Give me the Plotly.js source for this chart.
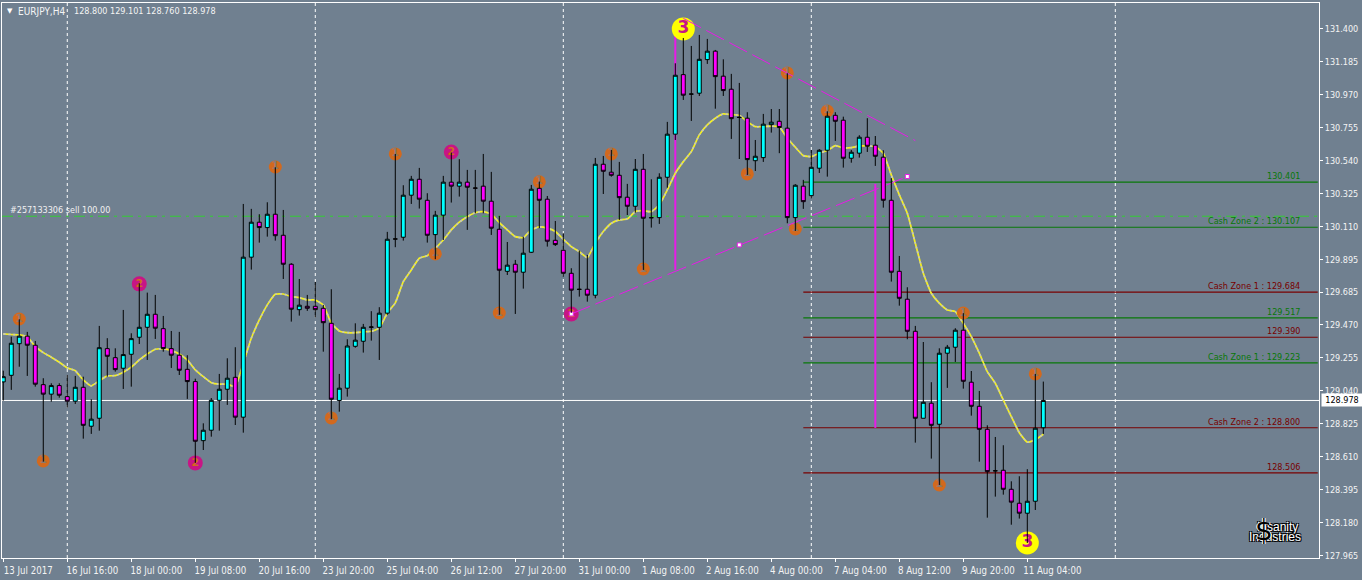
<!DOCTYPE html>
<html><head><meta charset="utf-8">
<script src="https://cdn.plot.ly/plotly-3.0.1.min.js"></script>
<style>html,body{margin:0;padding:0;background:#708090}#c{width:1362px;height:580px}</style>
</head><body><div id="c"></div>
<script>
const opens=[129.099,129.142,129.348,129.397,129.338,129.081,129.019,129.075,129.003,128.973,129.064,128.810,128.862,129.316,129.257,129.188,129.279,129.390,129.455,129.540,129.446,129.316,129.273,129.181,129.101,128.716,128.784,128.979,129.051,129.129,128.869,129.912,130.140,130.105,130.192,130.055,129.866,129.570,129.592,129.592,129.579,129.481,128.978,129.058,129.331,129.364,129.455,129.455,129.547,130.030,130.042,130.316,130.420,130.283,130.059,130.186,130.401,130.375,130.401,130.363,130.375,130.277,130.094,129.820,129.866,129.814,129.944,130.361,130.290,130.022,129.957,129.807,129.703,129.703,129.664,130.518,130.466,130.446,130.303,130.244,130.485,130.170,130.170,130.433,130.714,131.102,130.976,130.981,131.200,131.255,131.092,131.007,130.824,130.818,130.541,130.561,130.776,130.798,130.753,130.170,130.375,130.313,130.492,130.609,130.837,130.805,130.557,130.590,130.694,130.642,130.564,130.283,129.820,129.638,129.429,128.862,128.960,128.823,129.286,129.325,129.436,129.097,128.940,128.790,128.520,128.523,128.399,128.308,128.243,128.321,128.800];
const highs=[129.172,129.394,129.507,129.425,129.366,129.123,129.090,129.090,129.144,129.138,129.133,128.986,129.464,129.384,129.318,129.568,129.416,129.742,129.681,129.666,129.529,129.431,129.425,129.273,129.120,128.829,128.994,129.151,129.253,129.325,130.259,130.227,130.192,130.270,130.498,130.220,129.873,129.770,129.666,129.751,129.601,129.703,129.151,129.377,129.481,129.477,129.560,129.586,130.077,130.585,130.381,130.442,130.494,130.329,130.214,130.442,130.594,130.551,130.481,130.481,130.585,130.468,130.181,130.011,129.894,130.046,130.383,130.405,130.311,130.148,130.068,129.840,129.955,129.927,130.559,130.572,130.611,130.533,130.390,130.552,130.585,130.420,130.459,130.794,131.176,131.341,131.289,131.361,131.335,131.263,131.202,131.107,131.048,130.857,130.676,130.846,130.878,130.878,131.111,130.388,130.416,130.611,130.616,130.863,130.857,130.828,130.611,130.707,130.818,130.702,130.609,130.427,129.920,129.716,129.464,129.359,129.097,129.318,129.340,129.449,129.547,129.170,129.040,128.816,128.740,128.686,128.451,128.484,128.530,129.151,129.101];
const lows=[128.977,129.047,129.198,129.138,129.068,128.579,128.970,128.996,128.931,128.955,128.729,128.760,128.781,129.133,129.166,129.053,129.068,129.346,129.242,129.379,129.296,129.190,129.144,128.988,128.571,128.655,128.742,128.781,128.949,128.818,128.768,129.831,130.007,130.046,130.020,129.770,129.492,129.531,129.562,129.518,129.296,128.856,128.905,129.003,129.322,129.290,129.368,129.242,129.536,129.977,130.020,130.259,130.229,130.007,129.899,130.024,130.268,130.307,130.090,130.198,130.198,130.057,129.536,129.796,129.542,129.707,129.940,130.101,129.981,129.985,129.785,129.550,129.655,129.622,129.644,130.324,130.437,130.155,130.187,130.202,129.829,130.105,130.129,130.365,130.676,130.937,130.800,130.963,131.172,130.880,130.963,130.683,130.552,130.448,130.474,130.533,130.724,130.590,130.133,130.083,130.227,130.296,130.461,130.437,130.670,130.496,130.528,130.561,130.598,130.507,130.235,129.753,129.596,129.377,128.703,128.862,128.599,128.427,129.060,129.229,129.055,128.879,128.579,128.214,128.351,128.364,128.168,128.208,128.049,128.264,128.760];
const closes=[129.133,129.351,129.397,129.338,129.084,129.019,129.075,129.012,128.973,129.064,128.816,128.856,129.322,129.266,129.179,129.277,129.381,129.455,129.540,129.449,129.316,129.273,129.175,129.101,128.712,128.784,128.979,129.051,129.123,128.869,129.912,130.140,130.105,130.192,130.052,129.866,129.573,129.599,129.579,129.570,129.485,128.986,129.058,129.333,129.371,129.455,129.457,129.547,130.029,130.031,130.316,130.420,130.290,130.055,130.186,130.401,130.375,130.401,130.368,130.362,130.277,130.101,129.827,129.860,129.814,129.938,130.355,130.283,130.016,129.994,129.807,129.697,129.702,129.664,130.518,130.472,130.446,130.300,130.244,130.485,130.166,130.169,130.433,130.714,131.098,130.968,130.975,131.202,131.255,131.089,130.998,130.815,130.823,130.548,130.570,130.779,130.792,130.757,130.170,130.381,130.274,130.498,130.609,130.831,130.798,130.557,130.596,130.694,130.635,130.570,130.283,129.814,129.644,129.429,128.862,128.966,128.816,129.286,129.325,129.436,129.103,128.940,128.790,128.514,128.519,128.399,128.315,128.243,128.321,128.797,128.978];
const maValues=[129.412,129.408,129.405,129.394,129.329,129.290,129.260,129.227,129.190,129.172,129.112,129.073,129.107,129.138,129.140,129.162,129.195,129.242,129.281,129.312,129.314,129.303,129.281,129.242,129.177,129.133,129.094,129.084,129.084,129.068,129.221,129.384,129.503,129.601,129.670,129.672,129.655,129.648,129.633,129.633,129.601,129.481,129.431,129.420,129.420,129.425,129.429,129.449,129.548,129.614,129.753,129.829,129.905,129.922,129.970,130.024,130.090,130.140,130.176,130.202,130.209,130.194,130.137,130.090,130.046,130.039,130.090,130.109,130.101,130.079,130.029,129.981,129.948,129.909,130.003,130.079,130.133,130.155,130.161,130.209,130.215,130.209,130.253,130.350,130.459,130.535,130.600,130.709,130.774,130.818,130.846,130.841,130.837,130.796,130.763,130.763,130.766,130.763,130.687,130.629,130.574,130.568,130.590,130.607,130.639,130.624,130.626,130.637,130.637,130.633,130.590,130.448,130.318,130.198,130.003,129.807,129.677,129.612,129.568,129.557,129.481,129.394,129.286,129.166,129.090,128.981,128.873,128.768,128.706,128.721,128.758];

const wave1Bars=[2,5,34,41,49,54,62,67,76,80,93,98,99,103,117,120,129];
const wave1Prices=[129.509,128.584,130.500,128.864,130.585,129.933,129.548,130.403,130.585,129.835,130.455,131.113,130.096,130.865,128.427,129.548,129.151];
const wave2Bars=[17,24,56,71];
const wave2Prices=[129.738,128.571,130.598,129.542];
const wave3Bars=[85,128];
const wave3Prices=[131.400,128.049];

const topTrendBars=[85,114];
const topTrendPrices=[131.469,130.672];
const lowTrendBars=[71,92,113];
const lowTrendPrices=[129.542,129.992,130.438];
const stemOneBars=[84,84];
const stemOnePrices=[131.439,129.829];
const stemTwoBars=[109,109];
const stemTwoPrices=[130.390,128.799];

const levelPrices=[130.401,130.107,129.684,129.517,129.390,129.223,128.800,128.506];
const levelTexts=['130.401','Cash Zone 2 : 130.107','Cash Zone 1 : 129.684','129.517','129.390','Cash Zone 1 : 129.223','Cash Zone 2 : 128.800','128.506'];
const levelColors=['#087808','#087808','#780000','#087808','#780000','#087808','#780000','#780000'];
const levelStartBar=100;
const levelEndBar=164.3;
const labelBar=162.35;

const orderPrice=130.179;
const orderText='#257133306 sell 100.00';
const bidPrice=128.978;
const sessionBars=[8,39,70,101,139];

const timeTickBars=[0,8,16,24,32,40,48,56,64,72,80,88,96,104,112,120,128];
const timeTickLabels=['13 Jul 2017','16 Jul 16:00','18 Jul 00:00','19 Jul 08:00','20 Jul 16:00','23 Jul 20:00','25 Jul 04:00','26 Jul 12:00','27 Jul 20:00','31 Jul 00:00','1 Aug 08:00','2 Aug 16:00','4 Aug 00:00','7 Aug 04:00','8 Aug 12:00','9 Aug 20:00','11 Aug 04:00'];
const priceTicks=[131.400,131.185,130.970,130.755,130.540,130.325,130.110,129.895,129.685,129.470,129.255,129.040,128.825,128.610,128.395,128.180,127.965];

const xRange=[-0.16,164.46];
const yRange=[127.951,131.569];
const barIndex=opens.map((_,i)=>i);
const font='"DejaVu Sans Condensed","DejaVu Sans", sans-serif';
const fontSize=9;

function dots(xs,ys,color,size,label,labelColor,labelSize){
  return {type:'scatter',mode:'markers+text',x:xs,y:ys,marker:{color,size,line:{width:0}},
    text:xs.map(()=>label),textposition:'middle center',
    textfont:{family:'"DejaVu Sans",sans-serif',size:labelSize,color:labelColor,weight:700},cliponaxis:false,hoverinfo:'skip',showlegend:false};
}
const magenta='#e81ae8';
const traces=[
 {type:'scatter',mode:'lines',x:stemOneBars,y:stemOnePrices,line:{color:magenta,width:2},hoverinfo:'skip'},
 {type:'scatter',mode:'lines',x:stemTwoBars,y:stemTwoPrices,line:{color:magenta,width:2},hoverinfo:'skip'},
 {type:'scatter',mode:'lines',x:barIndex,y:maValues,line:{color:'#f4f020',width:1.7,shape:'spline',smoothing:0.4},hoverinfo:'skip'},
 {type:'scatter',mode:'lines',x:barIndex,y:maValues,line:{color:'#c6c6be',width:1.7,shape:'spline',smoothing:0.4,dash:'2px,3px'},hoverinfo:'skip'},
 dots(wave1Bars,wave1Prices,'#d2691e',13,'1','#8a7a70',10),
 dots(wave2Bars,wave2Prices,'#c71585',15,'2','#d2691e',11),
 dots(wave3Bars,wave3Prices,'#ffff00',23,'3','#c71585',17),
 {type:'scatter',mode:'lines',x:topTrendBars,y:topTrendPrices,line:{color:magenta,width:1,dash:'20px,6px'},hoverinfo:'skip'},
 {type:'scatter',mode:'lines+markers',x:lowTrendBars,y:lowTrendPrices,line:{color:magenta,width:1,dash:'20px,6px'},
  marker:{symbol:'square',color:'#ffffff',size:4,line:{color:magenta,width:1}},hoverinfo:'skip'},
 {type:'candlestick',x:barIndex,open:opens,high:highs,low:lows,close:closes,xaxis:'x2',yaxis:'y2',
  increasing:{fillcolor:'#00ffff',line:{color:'#000000',width:1}},
  decreasing:{fillcolor:'#ff00ff',line:{color:'#000000',width:1}},hoverinfo:'skip'}
];

const shapes=[];
sessionBars.forEach(b=>shapes.push({type:'line',layer:'below',xref:'x',yref:'paper',x0:b,x1:b,y0:0,y1:1,line:{color:'#ffffff',width:1,dash:'3px,3px'}}));
shapes.push({type:'line',layer:'below',xref:'paper',yref:'y',x0:0,x1:1,y0:orderPrice,y1:orderPrice,line:{color:'#32cd32',width:1,dash:'11px,5px,3px,5px'}});
shapes.push({type:'line',layer:'below',xref:'paper',yref:'y',x0:0,x1:1,y0:bidPrice,y1:bidPrice,line:{color:'#ffffff',width:1}});
levelPrices.forEach((p,k)=>shapes.push({type:'line',layer:'below',xref:'x',yref:'y',x0:levelStartBar,x1:levelEndBar,y0:p,y1:p,line:{color:levelColors[k],width:1.2}}));

const annotations=[];
levelPrices.forEach((p,k)=>annotations.push({xref:'x',yref:'y',x:labelBar,y:p,text:levelTexts[k],showarrow:false,xanchor:'right',yanchor:'middle',yshift:6,font:{family:font,size:fontSize,color:levelColors[k]}}));
annotations.push({xref:'x',yref:'y',x:0.6,y:orderPrice,text:orderText,showarrow:false,xanchor:'left',yanchor:'middle',yshift:6,font:{family:font,size:fontSize,color:'#f0f0f0'}});
annotations.push({xref:'paper',yref:'y',x:1,xshift:2,y:bidPrice,text:bidPrice.toFixed(3),showarrow:false,xanchor:'left',yanchor:'middle',bgcolor:'#ffffff',borderpad:1,width:38,font:{family:font,size:fontSize,color:'#000000'}});
annotations.push({xref:'paper',yref:'paper',x:0,xshift:3,y:1,yshift:-8,text:'▼',showarrow:false,xanchor:'left',yanchor:'middle',font:{family:'"DejaVu Sans",sans-serif',size:7,color:'#ffffff'}});
annotations.push({xref:'paper',yref:'paper',x:0,xshift:14,y:1,yshift:-8,text:'EURJPY,H4',showarrow:false,xanchor:'left',yanchor:'middle',font:{family:font,size:10,color:'#f4f4f4'}});
annotations.push({xref:'paper',yref:'paper',x:0,xshift:70,y:1,yshift:-8,text:'128.800 129.101 128.760 128.978',showarrow:false,xanchor:'left',yanchor:'middle',font:{family:font,size:fontSize,color:'#f4f4f4'}});
annotations.push({xref:'paper',yref:'paper',x:0.9855,y:0.055,text:'Insanity',showarrow:false,xanchor:'right',yanchor:'middle',font:{family:'"Liberation Sans",sans-serif',size:12,color:'#ffffff',shadow:'1px 1px 0 #000, -1px -1px 0 #000, 1px -1px 0 #000, -1px 1px 0 #000'}});
annotations.push({xref:'paper',yref:'paper',x:0.9875,y:0.037,text:'Industries',showarrow:false,xanchor:'right',yanchor:'middle',font:{family:'"Liberation Sans",sans-serif',size:12,color:'#ffffff',shadow:'1px 1px 0 #000, -1px -1px 0 #000, 1px -1px 0 #000, -1px 1px 0 #000'}});
annotations.push({xref:'paper',yref:'paper',x:0.9585,y:0.049,text:'$',showarrow:false,xanchor:'center',yanchor:'middle',font:{family:'"DejaVu Sans",sans-serif',size:28,color:'#000000',shadow:'1px 0 0 #fff, -1px 0 0 #fff'}});

const layout={
 width:1362,height:580,margin:{l:2,r:43,t:3,b:22,pad:0},
 paper_bgcolor:'#708090',plot_bgcolor:'#708090',showlegend:false,
 xaxis:{type:'linear',range:xRange,showgrid:false,zeroline:false,showline:true,mirror:true,linecolor:'#ffffff',linewidth:1,
  tickmode:'array',tickvals:timeTickBars,ticktext:timeTickLabels,ticks:'outside',ticklen:3,tickcolor:'#ffffff',tickwidth:1,
  ticklabelshift:25,tickangle:0,tickfont:{family:font,size:9.6,color:'#f4f4f4'},fixedrange:true},
 yaxis:{side:'right',range:yRange,showgrid:false,zeroline:false,showline:true,mirror:true,linecolor:'#ffffff',linewidth:1,
  tickmode:'array',tickvals:priceTicks,ticktext:priceTicks.map(v=>v.toFixed(3)),ticks:'outside',ticklen:3,tickcolor:'#ffffff',tickwidth:1,
  tickfont:{family:font,size:fontSize,color:'#f4f4f4'},fixedrange:true},
 xaxis2:{overlaying:'x',range:xRange,visible:false,rangeslider:{visible:false},fixedrange:true},
 yaxis2:{overlaying:'y',side:'right',range:yRange,visible:false,fixedrange:true},
 boxgap:0.3,shapes,annotations
};
Plotly.newPlot('c',traces,layout,{displayModeBar:false,staticPlot:true});
</script></body></html>
